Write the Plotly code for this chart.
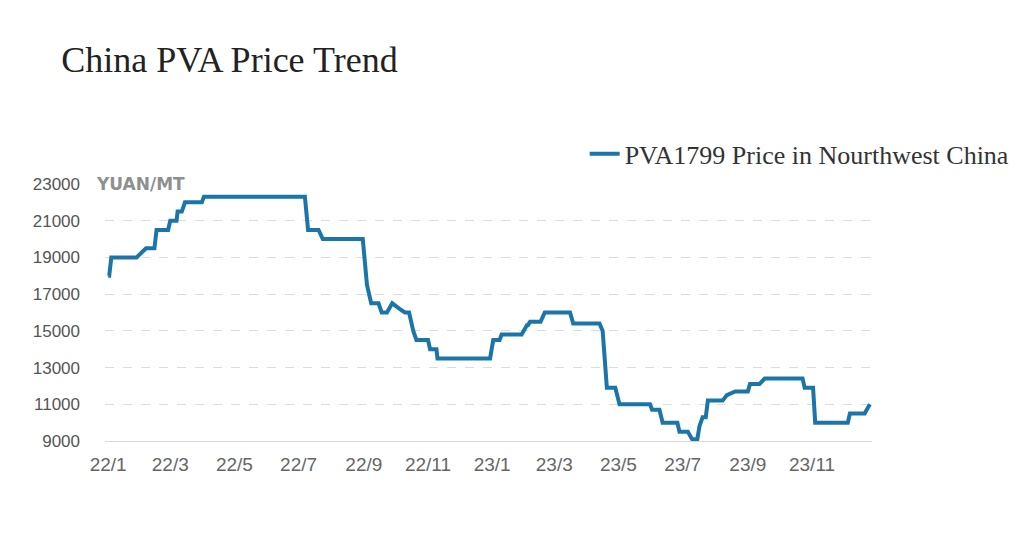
import plotly.graph_objects as go

dates = [
    "2022-01-01", "2022-01-02", "2022-01-04", "2022-01-28", "2022-02-06", "2022-02-14",
    "2022-02-16", "2022-02-27", "2022-03-01", "2022-03-07", "2022-03-08", "2022-03-12",
    "2022-03-15", "2022-03-31", "2022-04-02", "2022-07-07", "2022-07-10", "2022-07-20",
    "2022-07-24", "2022-08-31", "2022-09-04", "2022-09-08", "2022-09-15", "2022-09-18",
    "2022-09-23", "2022-09-28", "2022-10-05", "2022-10-10", "2022-10-14", "2022-10-18",
    "2022-10-21", "2022-11-01", "2022-11-03", "2022-11-09", "2022-11-10", "2022-12-30",
    "2023-01-02", "2023-01-08", "2023-01-10", "2023-01-29", "2023-02-03", "2023-02-04",
    "2023-02-06", "2023-02-16", "2023-02-20", "2023-03-16", "2023-03-19", "2023-04-13",
    "2023-04-16", "2023-04-20", "2023-04-28", "2023-05-02", "2023-05-31", "2023-06-02",
    "2023-06-09", "2023-06-12", "2023-06-26", "2023-06-28", "2023-07-06", "2023-07-10",
    "2023-07-15", "2023-07-17", "2023-07-20", "2023-07-23", "2023-07-25", "2023-08-08",
    "2023-08-12", "2023-08-20", "2023-09-01", "2023-09-03", "2023-09-12", "2023-09-17",
    "2023-10-23", "2023-10-25", "2023-11-02", "2023-11-04", "2023-12-05", "2023-12-07",
    "2023-12-21", "2023-12-26",
]
prices = [
    18000, 18000, 19000, 19000, 19500, 19500,
    20500, 20500, 21000, 21000, 21500, 21500,
    22000, 22000, 22300, 22300, 20500, 20500,
    20000, 20000, 17500, 16500, 16500, 16000,
    16000, 16500, 16200, 16000, 16000, 15000,
    14500, 14500, 14000, 14000, 13500, 13500,
    14500, 14500, 14800, 14800, 15300, 15300,
    15500, 15500, 16000, 16000, 15400, 15400,
    15000, 11900, 11900, 11000, 11000, 10700,
    10700, 10000, 10000, 9500, 9500, 9100,
    9100, 9800, 10300, 10300, 11200, 11200,
    11500, 11700, 11700, 12100, 12100, 12400,
    12400, 11900, 11900, 10000, 10000, 10500,
    10500, 11000,
]
series_name = "PVA1799 Price in Nourthwest China"
title_text = "China PVA Price Trend"
unit_text = "YUAN/MT"
x_tick_vals = ["2022-01-01", "2022-03-01", "2022-05-01", "2022-07-01", "2022-09-01", "2022-11-01",
               "2023-01-01", "2023-03-01", "2023-05-01", "2023-07-01", "2023-09-01", "2023-11-01"]
x_tick_text = ["22/1", "22/3", "22/5", "22/7", "22/9", "22/11",
               "23/1", "23/3", "23/5", "23/7", "23/9", "23/11"]
y_tick_vals = [9000, 11000, 13000, 15000, 17000, 19000, 21000, 23000]

fig = go.Figure()
fig.add_trace(go.Scatter(
    x=dates, y=prices, mode="lines", name=series_name,
    line=dict(color="#1b75a8", width=4),
))

fig.update_layout(
    width=1024, height=537,
    margin=dict(l=97, r=160, t=176, b=104, autoexpand=False),
    paper_bgcolor="white", plot_bgcolor="white",
    showlegend=True,
    legend=dict(
        orientation="h", x=1.186, xanchor="right", y=1.117, yanchor="middle",
        font=dict(family="Liberation Serif", size=26, color="#333"),
        bgcolor="rgba(0,0,0,0)",
    ),
    title=dict(
        text=title_text, x=0.052, xanchor="left", y=0.905, yanchor="middle",
        xref="container", yref="container",
        font=dict(family="Liberation Serif", size=36, color="#222"),
    ),
    xaxis=dict(
        type="date", range=["2021-12-29", "2023-12-28"],
        tickvals=x_tick_vals, ticktext=x_tick_text,
        showgrid=False, zeroline=False, showline=True, linecolor="#d8d8d8", linewidth=1,
        tickfont=dict(family="Liberation Sans", size=19, color="#666"),
        ticks="", ticklabelstandoff=6,
    ),
    yaxis=dict(
        range=[9000, 23000], tickvals=y_tick_vals, tickformat="d",
        showgrid=True, gridcolor="#dcdcdc", griddash="dash", gridwidth=1,
        zeroline=False, showline=False,
        tickfont=dict(family="Liberation Sans", size=17, color="#555"),
        ticks="", ticklabelstandoff=24,
    ),
    annotations=[dict(
        text="<b>" + unit_text + "</b>", xref="paper", yref="paper",
        x=-0.014, y=1.0, xanchor="left", yanchor="middle", showarrow=False,
        font=dict(family="DejaVu Sans", size=17, color="#8f8f8f"),
    )],
)

fig.write_html("out.html")
